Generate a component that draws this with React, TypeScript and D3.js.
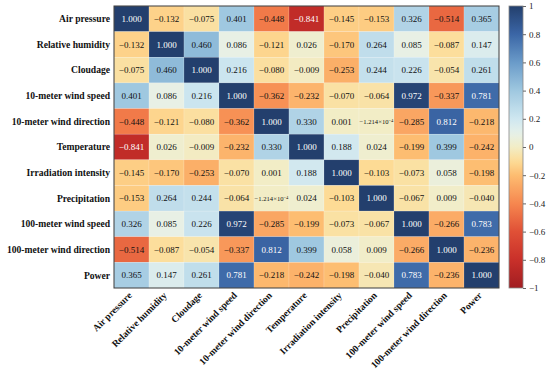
import React, { useEffect, useRef } from 'react'
import * as d3 from 'd3'

const variables = [
  'Air pressure',
  'Relative humidity',
  'Cloudage',
  '10-meter wind speed',
  '10-meter wind direction',
  'Temperature',
  'Irradiation intensity',
  'Precipitation',
  '100-meter wind speed',
  '100-meter wind direction',
  'Power',
]

// correlation matrix, row by row
const airPressure = [1.0, -0.132, -0.075, 0.401, -0.448, -0.841, -0.145, -0.153, 0.326, -0.514, 0.365]
const relHumidity = [-0.132, 1.0, 0.46, 0.086, -0.121, 0.026, -0.17, 0.264, 0.085, -0.087, 0.147]
const cloudage = [-0.075, 0.46, 1.0, 0.216, -0.08, -0.009, -0.253, 0.244, 0.226, -0.054, 0.261]
const windSpeed10 = [0.401, 0.086, 0.216, 1.0, -0.362, -0.232, -0.07, -0.064, 0.972, -0.337, 0.781]
const windDir10 = [-0.448, -0.121, -0.08, -0.362, 1.0, 0.33, 0.001, -1.214e-4, -0.285, 0.812, -0.218]
const temperature = [-0.841, 0.026, -0.009, -0.232, 0.33, 1.0, 0.188, 0.024, -0.199, 0.399, -0.242]
const irradiation = [-0.145, -0.17, -0.253, -0.07, 0.001, 0.188, 1.0, -0.103, -0.073, 0.058, -0.198]
const precipitation = [-0.153, 0.264, 0.244, -0.064, -1.214e-4, 0.024, -0.103, 1.0, -0.067, 0.009, -0.04]
const windSpeed100 = [0.326, 0.085, 0.226, 0.972, -0.285, -0.199, -0.073, -0.067, 1.0, -0.266, 0.783]
const windDir100 = [-0.514, -0.087, -0.054, -0.337, 0.812, 0.399, 0.058, 0.009, -0.266, 1.0, -0.236]
const power = [0.365, 0.147, 0.261, 0.781, -0.218, -0.242, -0.198, -0.04, 0.783, -0.236, 1.0]

const matrix = [
  airPressure, relHumidity, cloudage, windSpeed10, windDir10, temperature,
  irradiation, precipitation, windSpeed100, windDir100, power,
]

const colorbarTicks = [1, 0.8, 0.6, 0.4, 0.2, 0, -0.2, -0.4, -0.6, -0.8, -1]

const stopDomain = [-1, -0.8, -0.6, -0.4, -0.2, -0.1, 0, 0.1, 0.2, 0.4, 0.6, 0.8, 1]
const stopColors = [
  '#a11d21', '#c9302a', '#e05036', '#f6874f', '#fdbd71', '#fddc96', '#f2edc6',
  '#e6f1ea', '#cfe7f0', '#9fc8e0', '#6a9bc9', '#3b66a6', '#233f6d',
]

const FONT = 'Liberation Serif, Times New Roman, serif'

export default function App() {
  const ref = useRef<SVGSVGElement>(null)

  useEffect(() => {
    const svg = d3.select(ref.current)
    svg.selectAll('*').remove()

    const left = 114, top = 6, right = 499, bottom = 288
    const color = d3.scaleLinear<string>().domain(stopDomain).range(stopColors).interpolate(d3.interpolateRgb)

    const x = d3.scaleBand().domain(variables).range([left, right])
    const y = d3.scaleBand().domain(variables).range([top, bottom])

    const cells: { r: number; c: number; v: number }[] = []
    matrix.forEach((row, r) => row.forEach((v, c) => cells.push({ r, c, v })))

    const g = svg.append('g')
    g.selectAll('rect.cell').data(cells).enter().append('rect')
      .attr('class', 'cell')
      .attr('x', d => x(variables[d.c])!)
      .attr('y', d => y(variables[d.r])!)
      .attr('width', x.bandwidth())
      .attr('height', y.bandwidth())
      .attr('fill', d => color(d.v))
      .attr('stroke', 'rgba(255,255,255,0.3)')
      .attr('stroke-width', 0.5)

    const fmt = d3.format('.3f')
    cells.forEach(d => {
      const cx = x(variables[d.c])! + x.bandwidth() / 2
      const cy = y(variables[d.r])! + y.bandwidth() / 2
      const fill = Math.abs(d.v) > 0.7 ? '#ffffff' : '#111111'
      const t = g.append('text')
        .attr('x', cx).attr('y', cy)
        .attr('dy', '0.35em')
        .attr('text-anchor', 'middle')
        .style('font-family', FONT)
        .attr('fill', fill)
      if (Math.abs(d.v) > 0 && Math.abs(d.v) < 0.0005) {
        t.attr('font-size', 6.6)
        t.append('tspan').text('\u22121.214×10')
        t.append('tspan').attr('font-size', 4.6).attr('dy', '-0.35em').text('\u22124')
      } else {
        t.attr('font-size', 9).text(fmt(d.v).replace('-', '\u2212'))
      }
    })

    g.append('rect')
      .attr('x', left).attr('y', top)
      .attr('width', right - left).attr('height', bottom - top)
      .attr('fill', 'none').attr('stroke', '#3a3a3a').attr('stroke-width', 1)

    // row labels
    svg.append('g').selectAll('text').data(variables).enter().append('text')
      .attr('x', left - 4)
      .attr('y', d => y(d)! + y.bandwidth() / 2)
      .attr('dy', '0.35em')
      .attr('text-anchor', 'end')
      .style('font-family', FONT)
      .attr('font-weight', 'bold')
      .attr('font-size', 9.6)
      .attr('fill', '#111')
      .text(d => d)

    // column labels
    svg.append('g').selectAll('text').data(variables).enter().append('text')
      .attr('transform', d => `translate(${x(d)! + x.bandwidth() / 2 + 1},${bottom + 8}) rotate(-45)`)
      .attr('text-anchor', 'end')
      .style('font-family', FONT)
      .attr('font-weight', 'bold')
      .attr('font-size', 9.6)
      .attr('fill', '#111')
      .text(d => d)

    // colorbar
    const cbX = 509, cbW = 14
    const cbY = d3.scaleLinear().domain([1, -1]).range([top, bottom])
    const grad = svg.append('defs').append('linearGradient')
      .attr('id', 'cbgrad').attr('x1', 0).attr('y1', 1).attr('x2', 0).attr('y2', 0)
    d3.range(0, 1.0001, 0.02).forEach(t => {
      grad.append('stop').attr('offset', t).attr('stop-color', color(-1 + 2 * t))
    })
    svg.append('rect')
      .attr('x', cbX).attr('y', top).attr('width', cbW).attr('height', bottom - top)
      .attr('fill', 'url(#cbgrad)').attr('stroke', '#888').attr('stroke-width', 0.8)

    const axis = d3.axisRight(cbY).tickValues(colorbarTicks).tickSize(3).tickPadding(3)
      .tickFormat(d => {
        const v = +d
        if (v === 0) return '0'
        if (Math.abs(v) === 1) return v > 0 ? '1' : '\u22121'
        return d3.format('.1f')(v).replace('-', '\u2212')
      })
    const ax = svg.append('g').attr('transform', `translate(${cbX + cbW},0)`).call(axis)
    ax.select('.domain').remove()
    ax.selectAll('line').attr('stroke', '#666')
    ax.selectAll('text').style('font-family', FONT).attr('font-size', 9).attr('fill', '#222')
  }, [])

  return (
    <svg ref={ref} width={550} height={369}
      style={{ position: 'absolute', left: 0, top: 0, background: '#fff' }} />
  )
}
